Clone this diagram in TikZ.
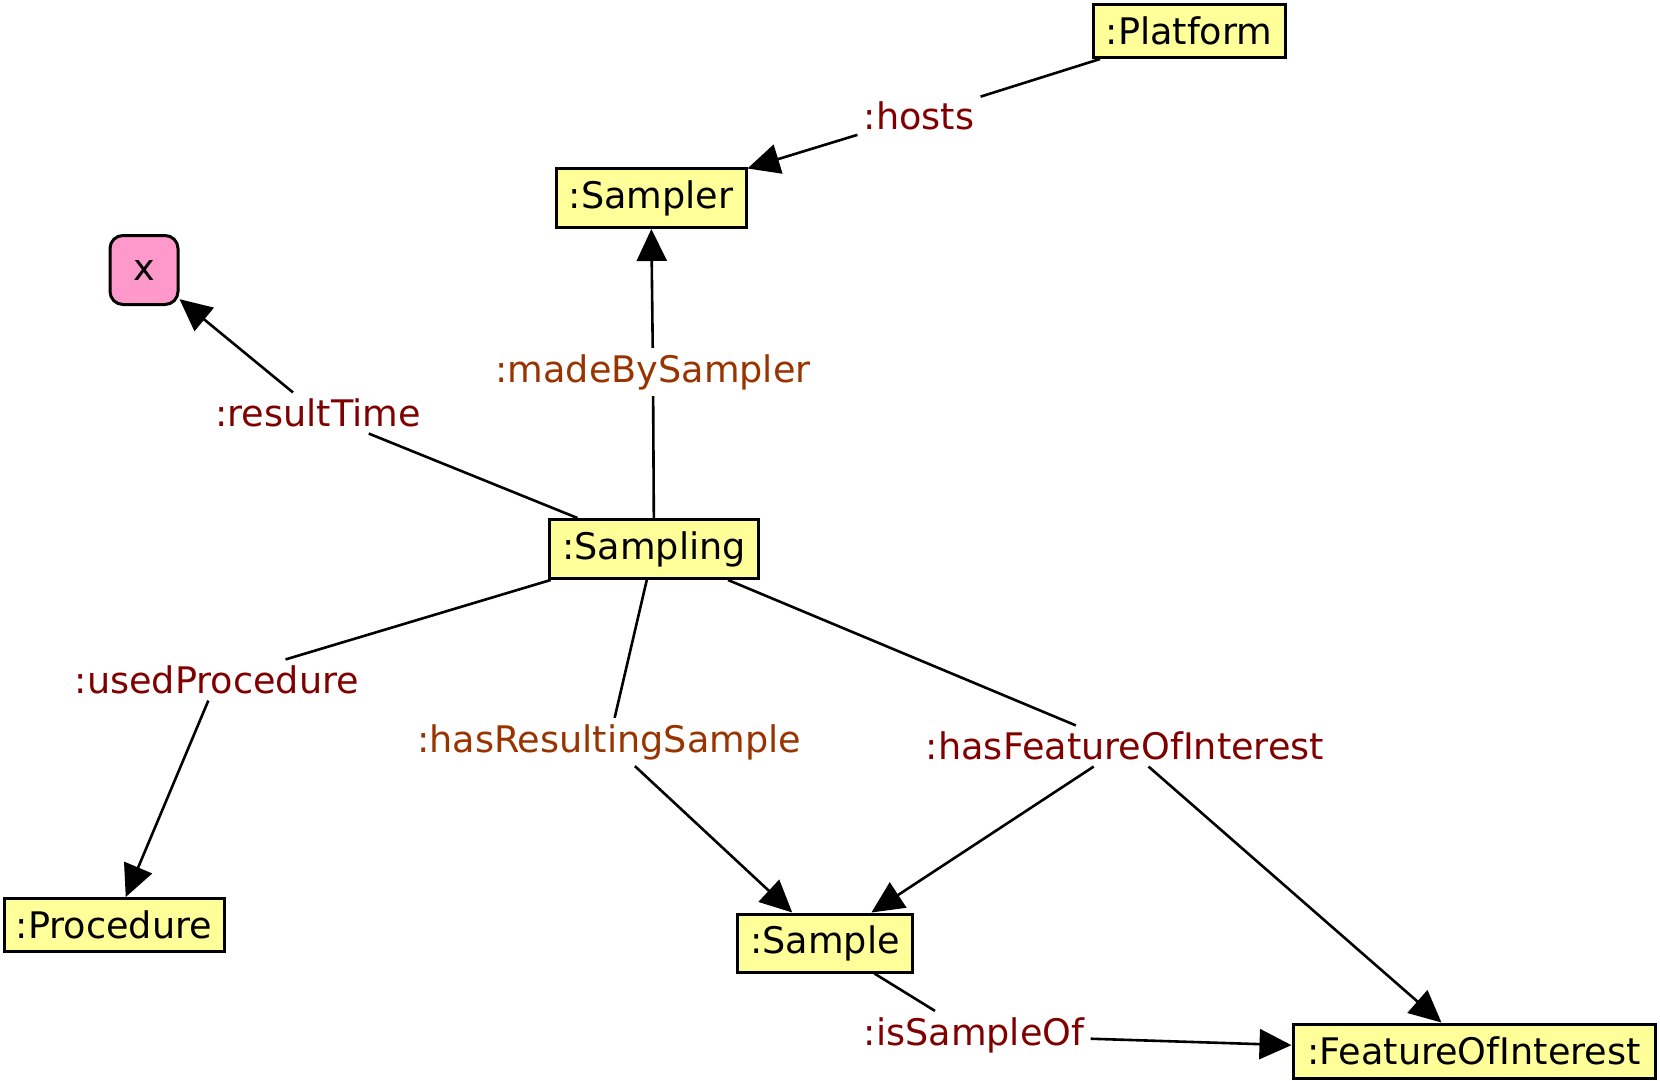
\documentclass[tikz,border=0pt]{standalone}
\usepackage{fontspec}
\setmainfont{DejaVu Sans}
\usetikzlibrary{arrows.meta}
\definecolor{boxfill}{HTML}{FFFF99}
\definecolor{pinkfill}{HTML}{FF99CC}
\definecolor{lblred}{HTML}{800000}
\definecolor{lblorange}{HTML}{993300}
\tikzset{
  cls/.style={draw=black, line width=1.5pt, fill=boxfill, inner sep=0pt, font=\fontsize{18.3}{20}\selectfont},
  lit/.style={draw=black, line width=1.5pt, fill=pinkfill, rounded corners=6.5pt, inner sep=0pt, minimum width=34pt, minimum height=34.5pt, font=\fontsize{18.3}{20}\selectfont},
  lbl/.style={text=lblred, inner sep=3pt, font=\fontsize{18.3}{20}\selectfont},
  lblo/.style={lbl, text=lblorange},
  edge/.style={draw=black, line width=1.3pt},
  arr/.style={edge, -{Triangle[length=16pt,width=15pt]}}
}
\begin{document}
\begin{tikzpicture}[x=0.5pt,y=-0.5pt]
\useasboundingbox (0,0) rectangle (1660,1081);
% nodes
\node[cls, minimum width=96pt, minimum height=26.5pt] (platform) at (1189,31) {:Platform};
\node[cls, minimum width=95pt, minimum height=29.5pt] (sampler) at (651,198) {:Sampler};
\node[lit] (x) at (144,270) {x};
\node[cls, minimum width=104.5pt, minimum height=29.5pt] (sampling) at (654,549) {:Sampling};
\node[cls, minimum width=110pt, minimum height=26.5pt] (procedure) at (114,925) {:Procedure};
\node[cls, minimum width=87.5pt, minimum height=29pt] (sample) at (825,943) {:Sample};
\node[cls, minimum width=181pt, minimum height=27pt] (foi) at (1474,1051) {:FeatureOfInterest};
% labels
\node[lbl] (lhosts) at (919,116) {:hosts};
\node[lblo] (lmade) at (653,372) {:madeBySampler};
\node[lbl] (lresult) at (318,413) {:resultTime};
\node[lbl] (lused) at (217,680) {:usedProcedure};
\node[lblo] (lhasres) at (609,742) {:hasResultingSample};
\node[lbl] (lfoi) at (1125,746) {:hasFeatureOfInterest};
\node[lbl] (liso) at (974,1035) {:isSampleOf};
% edges
\draw[edge] (platform) -- (lhosts);
\draw[arr] (lhosts) -- (sampler);
\draw[edge] (sampling) -- (lmade);
\draw[arr] (lmade) -- (sampler);
\draw[edge] (sampling) -- (lresult);
\draw[arr] (lresult) -- (x);
\draw[edge] (sampling) -- (lused);
\draw[arr] (lused) -- (procedure);
\draw[edge] (sampling) -- (lhasres);
\draw[arr] (lhasres) -- (sample);
\draw[edge] (sampling) -- (lfoi);
\draw[arr] (lfoi) -- (sample);
\draw[arr] (lfoi) -- (foi);
\draw[edge] (sample) -- (liso);
\draw[arr] (liso) -- (foi);
\end{tikzpicture}
\end{document}
